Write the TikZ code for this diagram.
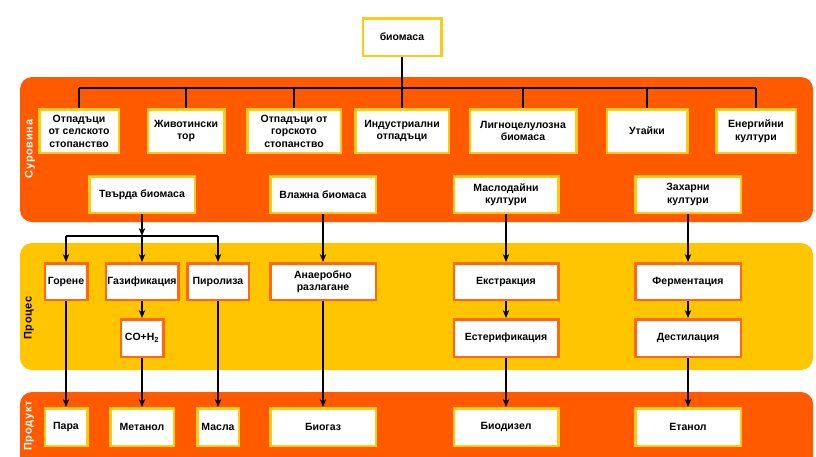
\documentclass[tikz,border=0pt]{standalone}
\usepackage{fontspec}
\setmainfont{Liberation Sans}
\newfontfamily\sidefont[LetterSpace=6]{Liberation Sans}
\usepackage{xcolor}
\usepackage{tikz}
\usetikzlibrary{positioning,arrows.meta}

\definecolor{bandorange}{RGB}{255,90,0}
\definecolor{bandyellow}{RGB}{255,198,0}
\definecolor{boxyellow}{RGB}{252,204,20}
\definecolor{boxorange}{RGB}{255,104,16}

\begin{document}
\begin{tikzpicture}[x=1pt,y=-1pt,->,>={Stealth[length=8pt,width=6.5pt]},line width=1.4pt]
  \tikzstyle{band}=[rounded corners=12pt]
  \tikzstyle{src}=[draw=boxyellow,line width=2.5pt,fill=white,align=center,inner sep=1pt,font=\fontsize{10.5}{12.5}\selectfont\bfseries]
  \tikzstyle{proc}=[src,draw=boxorange]
  \tikzstyle{rowa}=[src,minimum height=43.5pt]
  \tikzstyle{rowb}=[src,minimum height=36.5pt]
  \tikzstyle{side}=[rotate=90,font=\fontsize{11}{12}\sidefont\bfseries]

  \useasboundingbox (0,0) rectangle (816,456);
  \clip (0,0) rectangle (816,456);

  % bands
  \fill[band,bandorange] (20,77) rectangle (813,222);
  \fill[band,bandyellow] (20,243) rectangle (813,370);
  \fill[band,bandorange] (20,392) rectangle (813,490);

  \node[side,white] (suro) at (30,149) {Суровина};
  \node[side,black] (proc) at (29,318) {Процес};
  \node[side,white] (prod) at (29,426) {Продукт};

  \node[src,minimum width=78.5pt,minimum height=37.5pt] (bio) at (402,37) {биомаса};

  % raw materials
  \node[rowa,minimum width=79.5pt] (a1) at (79,131) {Отпадъци\\от селското\\стопанство};
  \node[rowa,minimum width=76.5pt] (a2) at (186,131) {Животински\\тор};
  \node[rowa,minimum width=93.5pt] (a3) at (294,131) {Отпадъци от\\горското\\стопанство};
  \node[rowa,minimum width=93.5pt] (a4) at (402,131) {Индустриални\\отпадъци};
  \node[rowa,minimum width=106.5pt] (a5) at (523,131) {Лигноцелулозна\\биомаса};
  \node[rowa,minimum width=80.5pt] (a6) at (647,131) {Утайки};
  \node[rowa,minimum width=79.5pt] (a7) at (756,131) {Енергийни\\култури};

  \node[rowb,minimum width=105.5pt] (b1) at (142,194.5) {Твърда биомаса};
  \node[rowb,minimum width=105.5pt] (b2) at (323,194.5) {Влажна биомаса};
  \node[rowb,minimum width=104.5pt] (b3) at (506,194.5) {Маслодайни\\култури};
  \node[rowb,minimum width=105.5pt] (b4) at (688,194.5) {Захарни\\култури};

  % processes
  \node[proc,minimum width=42.5pt,minimum height=36.5pt] (p1) at (66,281.5) {Горене};
  \node[proc,minimum width=72.5pt,minimum height=36.5pt] (p2) at (142,281.5) {Газификация};
  \node[proc,minimum width=61.5pt,minimum height=36.5pt] (p3) at (218,281.5) {Пиролиза};
  \node[proc,minimum width=105.5pt,minimum height=36.5pt] (p4) at (323,281.5) {Анаеробно\\разлагане};
  \node[proc,minimum width=104.5pt,minimum height=36.5pt] (p5) at (506,281.5) {Екстракция};
  \node[proc,minimum width=105.5pt,minimum height=36.5pt] (p6) at (688,281.5) {Ферментация};

  \node[proc,minimum width=42.5pt,minimum height=37.5pt] (q1) at (142,338) {CO+H\textsubscript{2}};
  \node[proc,minimum width=104.5pt,minimum height=37.5pt] (q2) at (506,338) {Естерификация};
  \node[proc,minimum width=105.5pt,minimum height=37.5pt] (q3) at (688,338) {Дестилация};

  % products
  \node[src,minimum width=42.5pt,minimum height=37.5pt] (r1) at (66,427) {Пара};
  \node[src,minimum width=63.5pt,minimum height=37.5pt] (r2) at (142,427) {Метанол};
  \node[src,minimum width=41.5pt,minimum height=37.5pt] (r3) at (218,427) {Масла};
  \node[src,minimum width=105.5pt,minimum height=37.5pt] (r4) at (323,427) {Биогаз};
  \node[src,minimum width=104.5pt,minimum height=37.5pt] (r5) at (506,427) {Биодизел};
  \node[src,minimum width=105.5pt,minimum height=37.5pt] (r6) at (688,427) {Етанол};

  % tree from biomass
  \coordinate (top) at (402,88);
  \draw[-] (a1.north |- top) -- (a7.north |- top);
  \foreach \n in {a1,a2,a3,a5,a6,a7}
    \draw[-] (\n.north |- top) -- (\n.north);
  \draw[-] (bio) -- (a4);

  \coordinate (split) at (142,236);
  \draw (b1) -- (split);
  \draw (split) -- (p2);
  \draw[-] (p1.north |- split) -- (p3.north |- split);
  \draw (p1.north |- split) -- (p1);
  \draw (p3.north |- split) -- (p3);

  \foreach \a/\b in {p1/r1,p2/q1,q1/r2,p3/r3,b2/p4,p4/r4,b3/p5,p5/q2,q2/r5,b4/p6,p6/q3,q3/r6}
    \draw (\a) -- (\b);
\end{tikzpicture}
\end{document}
